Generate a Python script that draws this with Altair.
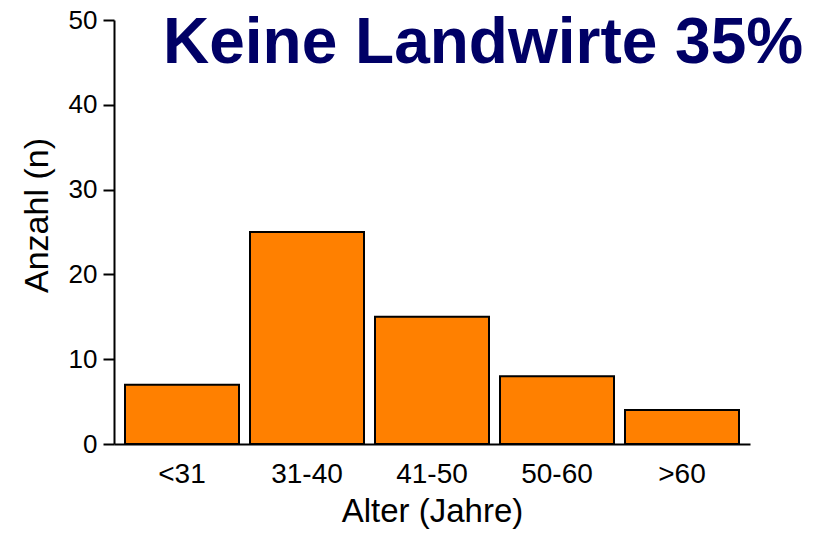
import altair as alt
import pandas as pd

categories = ["<31", "31-40", "41-50", "50-60", ">60"]
counts = [7, 25, 15, 8, 4]
y_ticks = [0, 10, 20, 30, 40, 50]
title_text = ["Keine Landwirte 35%"]

df = pd.DataFrame({"Alter": categories, "Anzahl": counts})
df_title = pd.DataFrame({"t": title_text})

FONT = "Liberation Sans"

bars = (
    alt.Chart(df)
    .mark_bar(color="#FF8000", stroke="black", strokeWidth=2)
    .encode(
        x=alt.X(
            "Alter:N",
            sort=categories,
            scale=alt.Scale(paddingInner=0.088, paddingOuter=0.088),
            axis=alt.Axis(
                title="Alter (Jahre)",
                labelAngle=0,
                ticks=False,
                tickSize=0,
                labelPadding=38,
                labelBaseline="alphabetic",
                labelFont=FONT,
                labelFontSize=28,
                labelColor="black",
                titleFont=FONT,
                titleFontSize=33,
                titleFontWeight="normal",
                titleColor="black",
                titleBaseline="alphabetic",
                titleY=77,
                domainColor="black",
                domainWidth=2,
            ),
        ),
        y=alt.Y(
            "Anzahl:Q",
            scale=alt.Scale(domain=[0, 50], nice=False),
            axis=alt.Axis(
                title="Anzahl (n)",
                values=y_ticks,
                grid=False,
                tickSize=11,
                tickWidth=2,
                tickColor="black",
                labelPadding=6,
                labelFont=FONT,
                labelFontSize=26,
                labelColor="black",
                titleFont=FONT,
                titleFontSize=34,
                titleFontWeight="normal",
                titleColor="black",
                titleBaseline="alphabetic",
                titleAngle=270,
                titleAlign="center",
                titleX=-67,
                titleY=195,
                domainColor="black",
                domainWidth=2,
            ),
        ),
    )
)

title = (
    alt.Chart(df_title)
    .mark_text(
        font=FONT,
        fontSize=64,
        fontWeight="bold",
        color="#000066",
        align="left",
        baseline="alphabetic",
    )
    .encode(text="t:N", x=alt.value(49), y=alt.value(43))
)

chart = (
    alt.layer(bars, title)
    .properties(
        width=636,
        height=424,
        autosize=alt.AutoSizeParams(type="none"),
        padding={"left": 106, "top": 12, "right": 69, "bottom": 85},
    )
    .configure_view(stroke=None)
)

chart.save("out.html", embed_options={"renderer": "svg", "actions": False})
